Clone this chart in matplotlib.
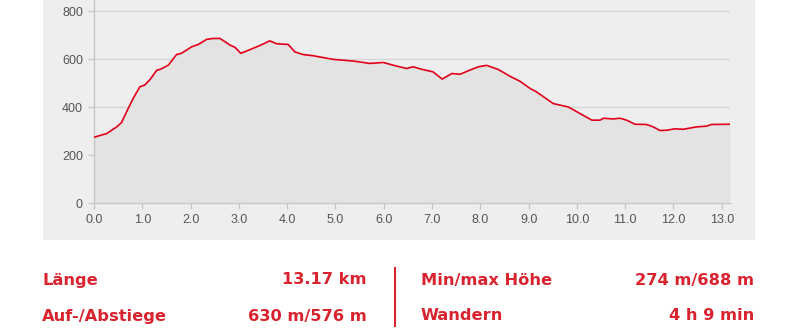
import matplotlib
matplotlib.use("Agg")
from matplotlib import pyplot as plt
from matplotlib.patches import Rectangle
from matplotlib.lines import Line2D

# elevation profile (km, m)
distance_km = [0.0, 0.26, 0.47, 0.57, 0.69, 0.81, 0.95, 1.05, 1.16, 1.30, 1.38, 1.54,
               1.71, 1.81, 2.02, 2.16, 2.33, 2.47, 2.61, 2.82, 2.92, 3.04, 3.20, 3.44,
               3.64, 3.78, 4.02, 4.16, 4.33, 4.54, 4.95, 5.37, 5.71, 5.99, 6.19, 6.47,
               6.61, 6.78, 7.02, 7.21, 7.41, 7.58, 7.78, 7.96, 8.13, 8.37, 8.61, 8.82,
               9.03, 9.16, 9.51, 9.82, 10.06, 10.31, 10.48, 10.55, 10.75, 10.89, 11.03,
               11.20, 11.44, 11.58, 11.72, 11.86, 12.03, 12.20, 12.48, 12.68, 12.79, 13.17]
elevation_m = [275, 290, 318, 336, 387, 436, 485, 492, 515, 554, 558, 575,
               619, 624, 651, 661, 682, 686, 686, 658, 649, 624, 637, 657,
               676, 664, 661, 630, 619, 614, 599, 592, 582, 586, 575, 561,
               568, 558, 547, 517, 540, 537, 554, 568, 574, 557, 529, 508,
               478, 464, 415, 401, 374, 346, 346, 354, 351, 354, 346,
               329, 328, 318, 303, 304, 310, 308, 318, 321, 328, 329]

x_ticks = [0, 1, 2, 3, 4, 5, 6, 7, 8, 9, 10, 11, 12, 13]
y_ticks = [0, 200, 400, 600, 800]

stats_left = [("Länge", "13.17 km"), ("Auf-/Abstiege", "630 m/576 m")]
stats_right = [("Min/max Höhe", "274 m/688 m"), ("Wandern", "4 h 9 min")]

W, H = 800, 335
red = "#d9232e"
panel_grey = "#eeeeee"

fig = plt.figure(figsize=(W / 100, H / 100), dpi=100, facecolor="white")
# grey panel behind the chart
fig.patches.append(Rectangle((43 / W, 1 - 240 / H), (755 - 43) / W, 240 / H,
                             transform=fig.transFigure, facecolor=panel_grey,
                             edgecolor="none", zorder=-5))

ax = fig.add_axes([94 / W, 1 - 203.3 / H, 636 / W, 203.3 / H])
ax.set_facecolor(panel_grey)
ax.fill_between(distance_km, elevation_m, 0, color="#e3e3e3", lw=0, zorder=1)
ax.plot(distance_km, elevation_m, color="#e2001a", lw=1.2, zorder=3)

ax.set_xlim(0, 13.17)
ax.set_ylim(0, 846)
ax.set_xticks(x_ticks)
ax.set_xticklabels([f"{t:.1f}" for t in x_ticks])
ax.set_yticks(y_ticks)
ax.grid(axis="y", color="#d6d6d6", lw=1, zorder=0)
ax.set_axisbelow(True)
for s in ("top", "right"):
    ax.spines[s].set_visible(False)
for s in ("left", "bottom"):
    ax.spines[s].set_color("#c8c8c8")
    ax.spines[s].set_linewidth(1)
ax.tick_params(axis="both", colors="#c8c8c8", labelcolor="#555555",
               labelsize=9, length=4, width=1)
ax.tick_params(axis="y", pad=4)
ax.tick_params(axis="x", pad=4)
for lab in ax.get_xticklabels() + ax.get_yticklabels():
    lab.set_fontfamily("Liberation Sans")

# statistics below the chart
font = dict(color=red, fontsize=11.7, fontweight="bold", family="DejaVu Sans",
            va="center")
rows_y = [280, 316]
for (label, value), y in zip(stats_left, rows_y):
    fig.text(42 / W, 1 - y / H, label, ha="left", **font)
    fig.text(367 / W, 1 - y / H, value, ha="right", **font)
for (label, value), y in zip(stats_right, rows_y):
    fig.text(421 / W, 1 - y / H, label, ha="left", **font)
    fig.text(754 / W, 1 - y / H, value, ha="right", **font)
fig.lines.append(Line2D([395 / W, 395 / W], [1 - 268 / H, 1 - 326 / H],
                        transform=fig.transFigure, color=red, lw=1.5))

fig.savefig("out.png", dpi=100, facecolor="white")
